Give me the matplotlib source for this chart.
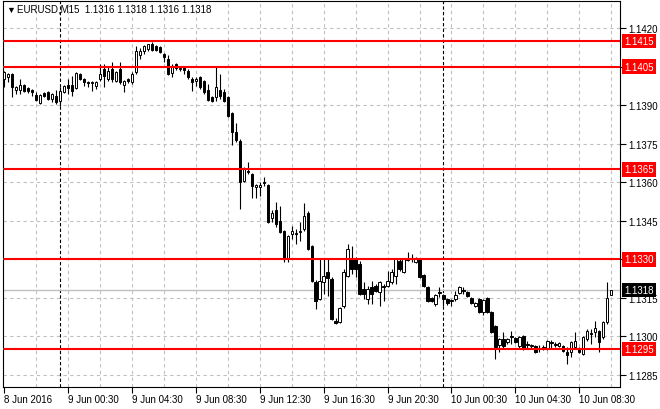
import numpy as np
import pandas as pd
import matplotlib
matplotlib.use("Agg")
import matplotlib.pyplot as plt
import matplotlib.transforms as mtransforms

plt.rcParams['font.family'] = ['Liberation Sans', 'DejaVu Sans']

# EURUSD M15 bars, prices in points (1e-5)
times = pd.date_range('2016-06-08 20:30', periods=153, freq='15min')

opens = np.array([
    114002, 114010, 114022, 113959, 113959, 113979, 113967, 113959, 113940, 113909,
    113948, 113952, 113924, 113936, 113917, 113952, 113979, 113979, 113967, 114022,
    114002, 113991, 113987, 113975, 114002, 114041, 114002, 114041, 113995, 114041,
    113979, 114002, 113991, 114030, 114096, 114111, 114119, 114139, 114131, 114127,
    114100, 114080, 114026, 114061, 114041, 114045, 114034, 114002, 113995, 114010,
    113995, 113959, 113932, 113932, 113959, 113952, 113932, 113870, 113796, 113761,
    113605, 113644, 113632, 113582, 113582, 113601, 113589, 113461, 113492, 113449,
    113410, 113301, 113398, 113402, 113406, 113418, 113480, 113352, 113211, 113145,
    113211, 113250, 113223, 113060, 113056, 113118, 113235, 113305, 113301, 113282,
    113184, 113145, 113192, 113196, 113172, 113196, 113196, 113211, 113235, 113293,
    113250, 113301, 113301, 113289, 113301, 113239, 113192, 113149, 113126, 113172,
    113161, 113145, 113141, 113145, 113169, 113180, 113172, 113149, 113118, 113145,
    113095, 113149, 113095, 113040, 112966, 112989, 112978, 113001, 112993, 112962,
    113001, 112970, 112962, 112962, 112954, 112954, 112950, 112978, 112970, 112962,
    112962, 112939, 112939, 112958, 112954, 112931, 112989, 113013, 113017, 113021,
    112997, 113056, 113160]) / 1e5

highs = np.array([
    114034, 114026, 114026, 113975, 114002, 113983, 113971, 113963, 113952, 113944,
    113952, 113956, 113948, 113959, 113971, 113979, 114002, 114014, 114030, 114026,
    114006, 113995, 113995, 113995, 114061, 114061, 114049, 114069, 114034, 114069,
    113998, 114006, 114030, 114131, 114123, 114135, 114139, 114146, 114135, 114131,
    114104, 114096, 114061, 114065, 114053, 114049, 114041, 114010, 114010, 114014,
    113998, 113983, 113936, 114049, 114022, 113963, 113936, 113874, 113831, 113769,
    113660, 113679, 113636, 113593, 113601, 113621, 113593, 113492, 113523, 113508,
    113414, 113395, 113430, 113418, 113445, 113519, 113488, 113356, 113219, 113301,
    113301, 113301, 113231, 113071, 113114, 113262, 113360, 113352, 113309, 113293,
    113211, 113196, 113215, 113204, 113215, 113204, 113254, 113262, 113305, 113301,
    113305, 113328, 113321, 113309, 113305, 113243, 113196, 113153, 113165, 113192,
    113165, 113149, 113145, 113176, 113196, 113192, 113176, 113153, 113134, 113149,
    113145, 113153, 113098, 113044, 112993, 113017, 112993, 113021, 112997, 113001,
    113005, 112982, 112970, 112966, 112966, 112966, 112986, 112986, 112978, 112978,
    112966, 112958, 112982, 113017, 112958, 113001, 113028, 113028, 113060, 113024,
    113060, 113211, 113180]) / 1e5

lows = np.array([
    113971, 113991, 113932, 113944, 113944, 113952, 113948, 113936, 113917, 113905,
    113932, 113920, 113913, 113905, 113897, 113948, 113944, 113936, 113963, 113998,
    113975, 113971, 113956, 113963, 113995, 113971, 113995, 113991, 113991, 113983,
    113952, 113987, 113983, 114022, 114080, 114100, 114111, 114111, 114111, 114104,
    114069, 114018, 114010, 114037, 114034, 114022, 114002, 113956, 113975, 113963,
    113944, 113917, 113913, 113917, 113924, 113913, 113854, 113745, 113757, 113496,
    113601, 113632, 113539, 113539, 113547, 113585, 113441, 113445, 113426, 113402,
    113289, 113289, 113379, 113360, 113371, 113410, 113336, 113211, 113106, 113141,
    113165, 113157, 113063, 113048, 113052, 113110, 113231, 113243, 113231, 113161,
    113145, 113126, 113126, 113172, 113118, 113137, 113192, 113204, 113204, 113254,
    113246, 113293, 113289, 113285, 113227, 113192, 113134, 113134, 113118, 113153,
    113118, 113122, 113118, 113137, 113165, 113165, 113153, 113126, 113114, 113091,
    113083, 113091, 113013, 112911, 112939, 112950, 112970, 112970, 112974, 112950,
    112947, 112954, 112954, 112935, 112939, 112947, 112947, 112950, 112958, 112958,
    112939, 112892, 112919, 112954, 112935, 112927, 112982, 112970, 112997, 112939,
    112989, 113048, 113160]) / 1e5

closes = np.array([
    114030, 114022, 113971, 113971, 113979, 113956, 113956, 113952, 113920, 113940,
    113936, 113924, 113944, 113913, 113956, 113975, 113967, 113956, 114026, 114002,
    113991, 113987, 113991, 113991, 114022, 114014, 114034, 114002, 114030, 113991,
    113995, 113995, 114022, 114111, 114111, 114131, 114139, 114115, 114115, 114108,
    114088, 114022, 114049, 114045, 114045, 114037, 114010, 113991, 114002, 113971,
    113952, 113920, 113917, 113971, 113936, 113917, 113858, 113796, 113765, 113601,
    113652, 113640, 113585, 113589, 113589, 113597, 113445, 113480, 113437, 113406,
    113301, 113391, 113410, 113398, 113410, 113469, 113340, 113215, 113137, 113215,
    113235, 113227, 113067, 113052, 113110, 113250, 113340, 113262, 113262, 113165,
    113165, 113184, 113165, 113176, 113211, 113192, 113215, 113250, 113301, 113262,
    113301, 113297, 113305, 113301, 113231, 113196, 113137, 113137, 113161, 113169,
    113145, 113130, 113137, 113161, 113192, 113176, 113157, 113130, 113130, 113095,
    113141, 113095, 113017, 112958, 112989, 112962, 112989, 112997, 112978, 112997,
    112950, 112966, 112966, 112939, 112950, 112958, 112982, 112974, 112966, 112974,
    112943, 112927, 112978, 112982, 112939, 112997, 113021, 113009, 113032, 112978,
    113056, 113149, 113180]) / 1e5

levels = [1.1415, 1.1405, 1.1365, 1.1330, 1.1295]
bid = 1.1318
price_ticks = [1.1285, 1.1300, 1.1315, 1.1330, 1.1345, 1.1360, 1.1375, 1.1390, 1.1405, 1.1420]

grid_col = '#c0c0c0'

fig = plt.figure(figsize=(6.6, 4.1), dpi=100)
ax = fig.add_axes([3 / 660, 22 / 410, 617 / 660, 386 / 410])

x = np.arange(len(times))
ax.set_xlim(-0.3, 154.2)
ax.set_ylim(1.12802, 1.14306)

# grid
for k in range(8, len(times), 8):
    ax.axvline(k, color=grid_col, lw=0.8, ls=(0, (3, 3)), zorder=0)
for p in price_ticks:
    ax.axhline(p, color=grid_col, lw=0.8, ls=(0, (3, 3)), zorder=0)

# day separators
midnight = np.where((times.hour == 0) & (times.minute == 0))[0]
for k in midnight:
    ax.axvline(k, color='black', lw=0.8, ls=(0, (3, 2)), zorder=1)

# bid line
ax.axhline(bid, color=grid_col, lw=1.0, zorder=1)

# candles
up = closes >= opens
ax.vlines(x, lows, highs, color='black', lw=0.8, zorder=3)
body = np.maximum(np.abs(closes - opens), 1e-6)
ax.bar(x, body, bottom=np.minimum(opens, closes), width=0.6,
       color=np.where(up, 'white', 'black'), edgecolor='black', lw=0.7, zorder=4)

# horizontal levels
for lv in levels:
    ax.axhline(lv, color='red', lw=1.5, zorder=5)

# axes
for s in ax.spines.values():
    s.set_color('black')
    s.set_linewidth(0.8)

ax.yaxis.tick_right()
ax.set_yticks(price_ticks)
# level labels are drawn in red boxes instead
ax.set_yticklabels(['' if any(abs(p - lv) < 1e-6 for lv in levels) else f'{p:.4f}'
                    for p in price_ticks])
ax.tick_params(axis='y', length=4, width=0.8, labelsize=7, pad=2)

xt = x[::16]
labels = []
for k in xt:
    t = times[k]
    if k == 0:
        labels.append(f'{t.day} {t:%b %Y}')
    else:
        labels.append(f'{t.day} {t:%b %H:%M}')
ax.set_xticks(xt)
ax.set_xticklabels(labels, ha='left')
ax.tick_params(axis='x', length=4, width=0.8, labelsize=7, pad=1)

# price labels on right axis
trans = mtransforms.blended_transform_factory(ax.transAxes, ax.transData)
for lv in levels:
    ax.text(1.0 + 4 / 617, lv, f'{lv:.4f}', transform=trans, color='white', fontsize=7,
            va='center', ha='left', clip_on=False, zorder=10,
            bbox=dict(boxstyle='square,pad=0.25', fc='red', ec='none'))
ax.text(1.0 + 4 / 617, bid, f'{bid:.4f}', transform=trans, color='white', fontsize=7,
        va='center', ha='left', clip_on=False, zorder=10,
        bbox=dict(boxstyle='square,pad=0.25', fc='black', ec='none'))

# header
fig.text(6 / 660, 1 - 10 / 410, '\u25bc', fontsize=6.5, va='center', ha='left')
fig.text(17 / 660, 1 - 10 / 410,
         f'EURUSD,M15  {opens[-1]:.4f} {highs[-1]:.4f} {lows[-1]:.4f} {closes[-1]:.4f}',
         fontsize=7, va='center', ha='left')

fig.savefig('out.png', dpi=100)
